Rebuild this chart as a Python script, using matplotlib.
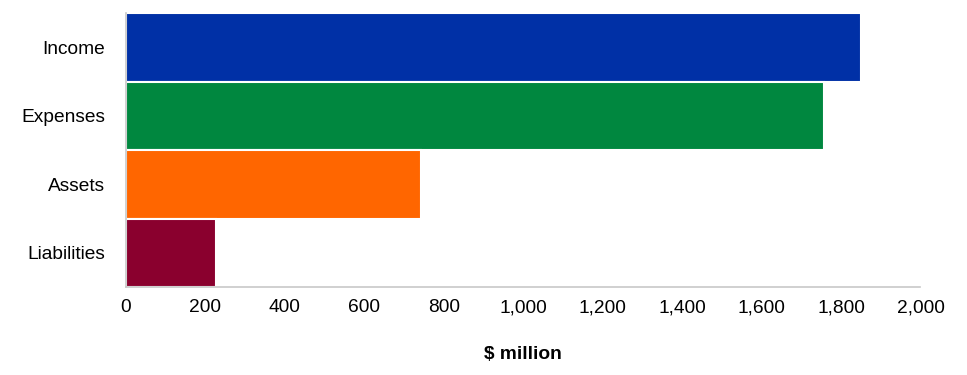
import matplotlib
matplotlib.use("Agg")
import matplotlib.pyplot as plt
from matplotlib.ticker import FuncFormatter

categories = ["Income", "Expenses", "Assets", "Liabilities"]
values = [1850, 1758, 743, 226]
colors = ["#0030A6", "#00873F", "#FF6600", "#8A002E"]
xticks = [0, 200, 400, 600, 800, 1000, 1200, 1400, 1600, 1800, 2000]

plt.rcParams['font.family'] = ['Liberation Sans', 'DejaVu Sans']

fig = plt.figure(figsize=(9.67, 3.75), dpi=100)
ax = fig.add_axes([126/967, 1-287/375, (920.5-126)/967, (287-13)/375])

ypos = list(range(len(categories)))[::-1]
ax.barh(ypos, values, height=1.0, color=colors, edgecolor="white", linewidth=1.5)

ax.set_xlim(0, 2000)
ax.set_ylim(-0.5, 3.5)
ax.set_xticks(xticks)
ax.xaxis.set_major_formatter(FuncFormatter(lambda v, p: f"{int(v):,}"))
ax.set_yticks(ypos)
ax.set_yticklabels(categories)

for s in ["top", "right"]:
    ax.spines[s].set_visible(False)
for s in ["left", "bottom"]:
    ax.spines[s].set_color("#C8C8C8")
    ax.spines[s].set_linewidth(1.2)

ax.tick_params(axis="x", length=0, pad=9, labelsize=13.8, colors="black")
ax.tick_params(axis="y", length=0, pad=15, labelsize=13.8, colors="black")
ax.set_xlabel("$ million", fontsize=13.8, fontweight="bold", labelpad=21)

fig.savefig("out.png", dpi=100)
